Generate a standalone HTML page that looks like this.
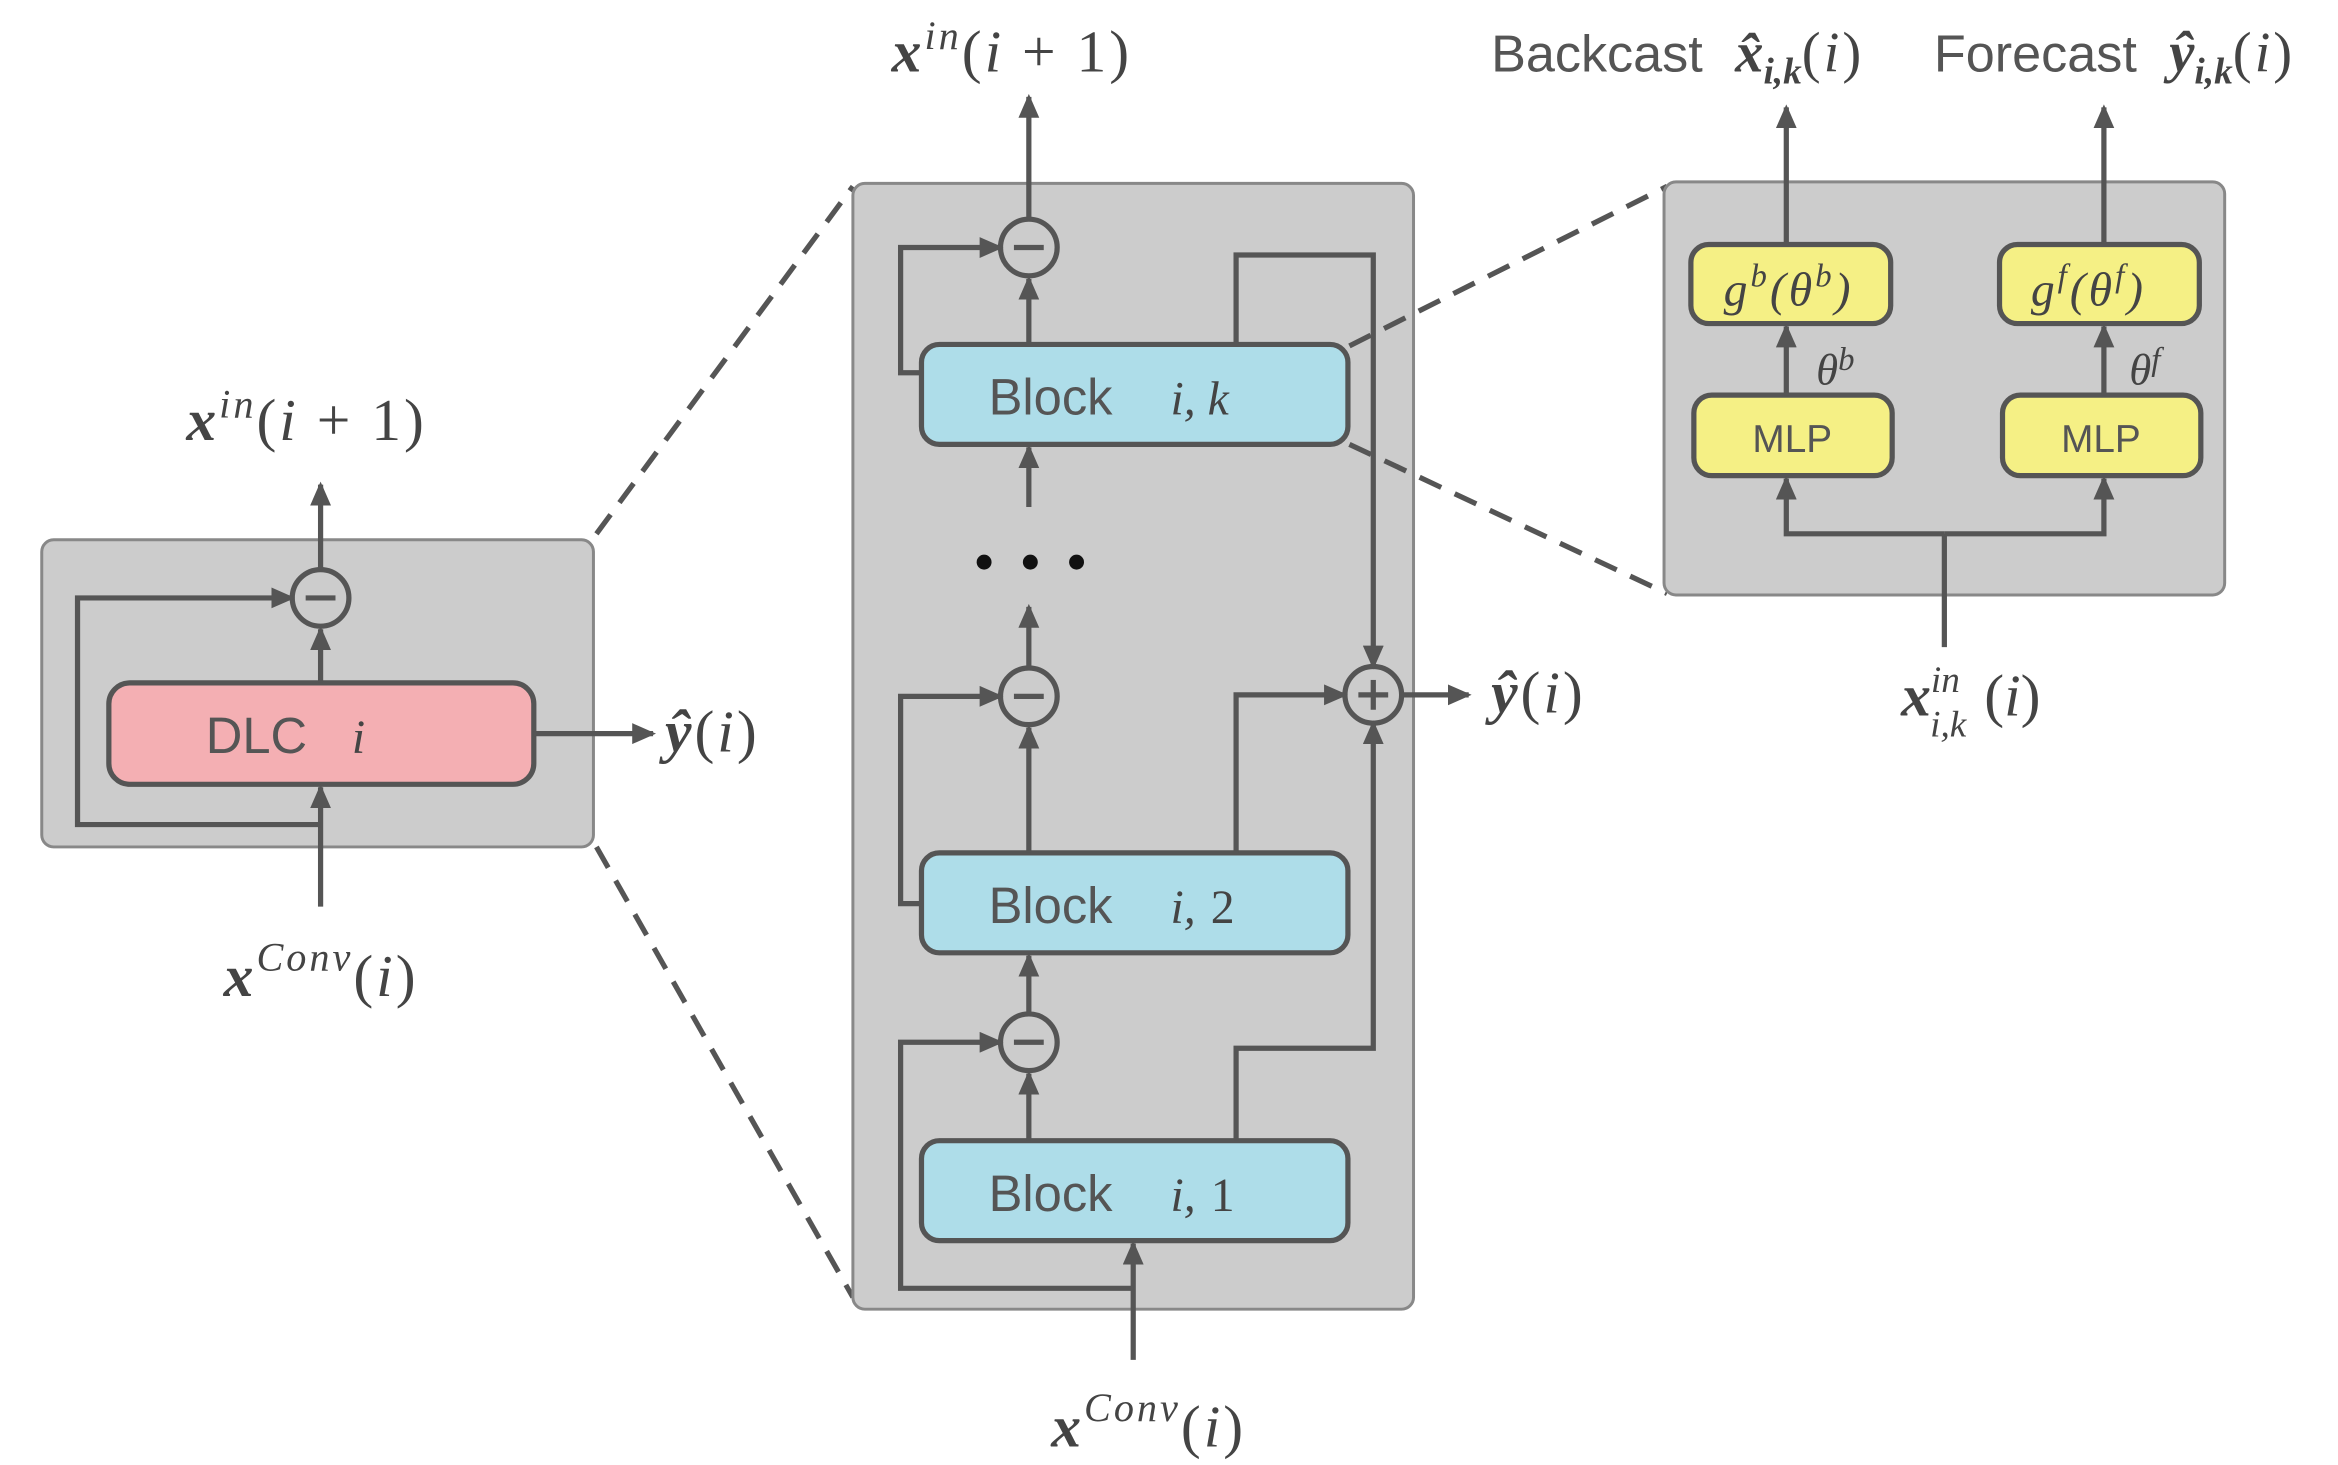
<!DOCTYPE html>
<html><head><meta charset="utf-8"><style>
html,body{margin:0;padding:0;background:#fff;}
svg{display:block}
.t{font-family:"Liberation Sans",sans-serif;fill:#555}
.m{font-family:"Liberation Serif",serif;fill:#444;font-style:italic}
.mb{font-family:"Liberation Serif",serif;fill:#444;font-style:italic;font-weight:bold}
.r{font-family:"Liberation Serif",serif;fill:#444}
.L{letter-spacing:2px}
</style></head><body>
<svg width="2338" height="1465" viewBox="0 0 1568 982.5" preserveAspectRatio="none" xmlns="http://www.w3.org/2000/svg">
<defs><marker id="a" markerWidth="16" markerHeight="14" refX="14" refY="7" orient="auto" markerUnits="userSpaceOnUse"><path d="M0,0 L16,7 L0,14 z" fill="#555"/></marker></defs>
<g stroke="#555" stroke-width="3.5" fill="none">
<rect x="28" y="362" width="370" height="206" rx="8" fill="#cccccc" stroke="#888" stroke-width="2"/>
<rect x="73" y="458" width="285" height="68" rx="14" fill="#f4afb3"/>
<circle cx="215" cy="401" r="19" fill="#ccc"/>
<line x1="205" y1="401" x2="225" y2="401"/>
<line x1="215" y1="458" x2="215" y2="422" marker-end="url(#a)"/>
<line x1="215" y1="382" x2="215" y2="325" marker-end="url(#a)"/>
<line x1="215" y1="608" x2="215" y2="528" marker-end="url(#a)"/>
<polyline points="215,553 52,553 52,401 196,401" marker-end="url(#a)"/>
<line x1="358" y1="492" x2="438" y2="492" marker-end="url(#a)"/>
<line x1="400" y1="358" x2="572" y2="125" stroke-dasharray="16,10"/>
<line x1="400" y1="568" x2="572" y2="870" stroke-dasharray="16,10"/>
<rect x="572" y="123" width="376" height="755" rx="8" fill="#cccccc" stroke="#888" stroke-width="2"/>
<rect x="618" y="231" width="286" height="67" rx="12" fill="#aedde9"/>
<rect x="618" y="572" width="286" height="67" rx="12" fill="#aedde9"/>
<rect x="618" y="765" width="286" height="67" rx="12" fill="#aedde9"/>
<circle cx="690" cy="166" r="19" fill="#ccc"/><line x1="680" y1="166" x2="700" y2="166"/>
<circle cx="690" cy="467" r="19" fill="#ccc"/><line x1="680" y1="467" x2="700" y2="467"/>
<circle cx="690" cy="699" r="19" fill="#ccc"/><line x1="680" y1="699" x2="700" y2="699"/>
<circle cx="921" cy="466" r="19" fill="#ccc"/><line x1="911" y1="466" x2="931" y2="466"/><line x1="921" y1="456" x2="921" y2="476"/>
<line x1="760" y1="912" x2="760" y2="834" marker-end="url(#a)"/>
<polyline points="760,864 604,864 604,699 671,699" marker-end="url(#a)"/>
<line x1="690" y1="765" x2="690" y2="720" marker-end="url(#a)"/>
<line x1="690" y1="680" x2="690" y2="641" marker-end="url(#a)"/>
<polyline points="618,606 604,606 604,467 671,467" marker-end="url(#a)"/>
<line x1="690" y1="572" x2="690" y2="488" marker-end="url(#a)"/>
<line x1="690" y1="448" x2="690" y2="407" marker-end="url(#a)"/>
<line x1="690" y1="340" x2="690" y2="300" marker-end="url(#a)"/>
<polyline points="618,250 604,250 604,166 671,166" marker-end="url(#a)"/>
<line x1="690" y1="231" x2="690" y2="187" marker-end="url(#a)"/>
<line x1="690" y1="147" x2="690" y2="65" marker-end="url(#a)"/>
<polyline points="829,231 829,171 921,171 921,447" marker-end="url(#a)"/>
<polyline points="829,572 829,466 902,466" marker-end="url(#a)"/>
<polyline points="829,765 829,703 921,703 921,485" marker-end="url(#a)"/>
<line x1="940" y1="466" x2="985" y2="466" marker-end="url(#a)"/>
<line x1="905" y1="232" x2="1118" y2="125" stroke-dasharray="16,10"/>
<line x1="905" y1="298" x2="1118" y2="398" stroke-dasharray="16,10"/>
<rect x="1116" y="122" width="376" height="277" rx="8" fill="#cccccc" stroke="#888" stroke-width="2"/>
<rect x="1134" y="164" width="134" height="53" rx="12" fill="#f5f085"/>
<rect x="1341" y="164" width="134" height="53" rx="12" fill="#f5f085"/>
<rect x="1136" y="265" width="133" height="54" rx="12" fill="#f5f085"/>
<rect x="1343" y="265" width="133" height="54" rx="12" fill="#f5f085"/>
<line x1="1304" y1="434" x2="1304" y2="358"/>
<polyline points="1304,358 1198,358 1198,321" marker-end="url(#a)"/>
<polyline points="1304,358 1411,358 1411,321" marker-end="url(#a)"/>
<line x1="1198" y1="265" x2="1198" y2="219" marker-end="url(#a)"/>
<line x1="1411" y1="265" x2="1411" y2="219" marker-end="url(#a)"/>
<line x1="1198" y1="164" x2="1198" y2="72" marker-end="url(#a)"/>
<line x1="1411" y1="164" x2="1411" y2="72" marker-end="url(#a)"/>
</g>
<g fill="#111"><circle cx="660" cy="377" r="5"/><circle cx="691" cy="377" r="5"/><circle cx="722" cy="377" r="5"/></g>
<text x="138" y="505" class="t" font-size="34">DLC</text><text x="236" y="505" class="m" font-size="32">i</text>
<text x="663" y="278" class="t" font-size="34">Block</text><text x="785" y="278" class="m" font-size="32">i, k</text>
<text x="663" y="619" class="t" font-size="34">Block</text><text x="785" y="619" class="m" font-size="32">i, </text><text x="812" y="619" class="r" font-size="32">2</text>
<text x="663" y="812" class="t" font-size="34">Block</text><text x="785" y="812" class="m" font-size="32">i, </text><text x="812" y="812" class="r" font-size="32">1</text>
<text x="1156" y="205" class="m L" font-size="32">g<tspan dy="-13" font-size="22">b</tspan><tspan dy="13">(θ</tspan><tspan dy="-13" font-size="22">b</tspan><tspan dy="13">)</tspan></text>
<text x="1362" y="205" class="m L" font-size="32">g<tspan dy="-13" font-size="22">f</tspan><tspan dy="13">(θ</tspan><tspan dy="-13" font-size="22">f</tspan><tspan dy="13">)</tspan></text>
<text x="1202" y="303" class="t" font-size="26" text-anchor="middle">MLP</text>
<text x="1409" y="303" class="t" font-size="26" text-anchor="middle">MLP</text>
<text x="1218" y="258" class="m" font-size="30">θ<tspan dy="-10" font-size="22">b</tspan></text>
<text x="1428" y="258" class="m" font-size="30">θ<tspan dy="-10" font-size="22">f</tspan></text>
<text x="125" y="295" font-size="40" class="L"><tspan class="mb">x</tspan><tspan class="m" dy="-15" font-size="27">in</tspan><tspan class="r" dy="15">(</tspan><tspan class="m">i</tspan><tspan class="r"> + 1)</tspan></text>
<text x="150" y="668" font-size="40" class="L"><tspan class="mb">x</tspan><tspan class="m" dy="-17" font-size="27">Conv</tspan><tspan class="r" dy="17">(</tspan><tspan class="m">i</tspan><tspan class="r">)</tspan></text>
<text x="446" y="504" font-size="40" class="L"><tspan class="mb">ŷ</tspan><tspan class="r">(</tspan><tspan class="m">i</tspan><tspan class="r">)</tspan></text>
<text x="598" y="48" font-size="40" class="L"><tspan class="mb">x</tspan><tspan class="m" dy="-15" font-size="27">in</tspan><tspan class="r" dy="15">(</tspan><tspan class="m">i</tspan><tspan class="r"> + 1)</tspan></text>
<text x="1000" y="478" font-size="40" class="L"><tspan class="mb">ŷ</tspan><tspan class="r">(</tspan><tspan class="m">i</tspan><tspan class="r">)</tspan></text>
<text x="705" y="970" font-size="40" class="L"><tspan class="mb">x</tspan><tspan class="m" dy="-17" font-size="27">Conv</tspan><tspan class="r" dy="17">(</tspan><tspan class="m">i</tspan><tspan class="r">)</tspan></text>
<text x="1000" y="48" font-size="35"><tspan class="t">Backcast </tspan><tspan class="mb" dx="12" font-size="38">x̂</tspan><tspan class="mb" font-size="25" dy="8">i,k</tspan><tspan class="r L" dy="-8" font-size="38">(</tspan><tspan class="m L" font-size="38">i</tspan><tspan class="r" font-size="38">)</tspan></text>
<text x="1297" y="48" font-size="35"><tspan class="t">Forecast </tspan><tspan class="mb" dx="12" font-size="38">ŷ</tspan><tspan class="mb" font-size="25" dy="8">i,k</tspan><tspan class="r L" dy="-8" font-size="38">(</tspan><tspan class="m L" font-size="38">i</tspan><tspan class="r" font-size="38">)</tspan></text>
<text x="1275" y="480" font-size="40"><tspan class="mb">x</tspan><tspan class="m" font-size="25" dy="-16">in</tspan><tspan class="m" font-size="25" dx="-20" dy="30">i,k</tspan><tspan class="r" dy="-14" dx="12">(</tspan><tspan class="m">i</tspan><tspan class="r">)</tspan></text>
</svg>
</body></html>
